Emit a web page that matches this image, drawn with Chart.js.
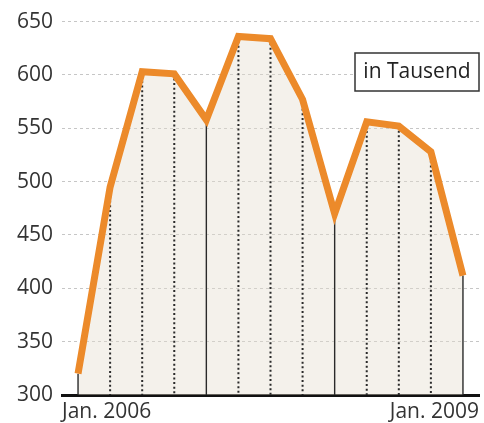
<!DOCTYPE html>
<html>
<head>
<meta charset="utf-8">
<script src="https://cdn.jsdelivr.net/npm/chart.js@4.4.1/dist/chart.umd.min.js"></script>
<style>
    html, body { margin: 0; padding: 0; background: #fff; }
    #wrap { width: 484px; height: 423px; position: relative; }
</style>
</head>
<body>
<div id="wrap"><canvas id="chart"></canvas></div>
<script>
/* ================= DATA ================= */

const quarters = [
    "Jan. 2006", "Apr. 2006", "Jul. 2006", "Okt. 2006",
    "Jan. 2007", "Apr. 2007", "Jul. 2007", "Okt. 2007",
    "Jan. 2008", "Apr. 2008", "Jul. 2008", "Okt. 2008",
    "Jan. 2009"
];
const values = [320, 495, 603, 601, 558, 636, 634, 577, 470, 556, 552, 528, 412];
const yTicks = [300, 350, 400, 450, 500, 550, 600, 650];
const xTickLabels = ["Jan. 2006", "Jan. 2009"];
const unitLabel = "in Tausend";

/* ================= PLUGINS ================= */

// senkrechte Linien von jedem Punkt zur Grundlinie
const dropLines = {
    id: "dropLines",
    beforeDatasetsDraw(chart) {
        const { ctx, scales: { x, y } } = chart;
        const base = y.getPixelForValue(yTicks[0]);
        values.forEach((v, i) => {
            const px = x.getPixelForValue(i);
            ctx.save();
            ctx.strokeStyle = "#2a2a2a";
            if (i % 4 === 0) {
                ctx.lineWidth = 1.4;
                ctx.setLineDash([]);
            } else {
                ctx.lineWidth = 2;
                ctx.setLineDash([2, 2.6]);
            }
            ctx.beginPath();
            ctx.moveTo(px, y.getPixelForValue(v));
            ctx.lineTo(px, base);
            ctx.stroke();
            ctx.restore();
        });
    }
};

const unitBox = {
    id: "unitBox",
    afterDraw(chart) {
        const { ctx } = chart;
        ctx.save();
        ctx.fillStyle = "#fff";
        ctx.fillRect(355, 53, 124, 38);
        ctx.strokeStyle = "#333";
        ctx.lineWidth = 1.5;
        ctx.strokeRect(355, 53, 124, 38);
        ctx.fillStyle = "#222";
        ctx.font = "21px 'Open Sans'";
        ctx.textAlign = "center";
        ctx.textBaseline = "middle";
        ctx.fillText(unitLabel, 417, 72);
        ctx.restore();
    }
};

/* ================= CHART ================= */

new Chart(document.getElementById("chart"), {
    type: "line",
    data: {
        labels: quarters,
        datasets: [{
            data: values.map((v, i) => ({ x: i, y: v })),
            borderColor: "#ec8a2a",
            borderWidth: 7,
            borderJoinStyle: "miter",
            backgroundColor: "rgba(228,220,204,0.4)",
            fill: "start",
            tension: 0,
            pointRadius: 0,
        }]
    },
    options: {
        responsive: true,
        maintainAspectRatio: false,
        animation: false,
        layout: { padding: { top: 19, right: 5, left: 0, bottom: 0 } },
        plugins: {
            legend: { display: false },
            tooltip: { enabled: false },
            filler: { drawTime: "beforeDatasetsDraw" }
        },
        scales: {
            x: {
                type: "linear",
                min: -0.5,
                max: 12.5,
                afterBuildTicks: s => {
                    s.ticks = [{ value: -0.5 }, { value: 12.5 }];
                },
                afterFit: s => { s.height = 28; },
                grid: { display: false },
                border: { display: true, color: "#111", width: 3 },
                ticks: {
                    align: "inner",
                    maxRotation: 0,
                    autoSkip: false,
                    padding: -3,
                    color: "#333",
                    font: { family: "'Open Sans'", size: 21, lineHeight: 1.1 },
                    callback: (v, i) => xTickLabels[i]
                }
            },
            y: {
                min: 300,
                max: 650,
                afterBuildTicks: s => {
                    s.ticks = yTicks.map(v => ({ value: v }));
                },
                afterFit: s => { s.width = 62; },
                grid: { color: "#c6c6c6", lineWidth: 1, drawTicks: false },
                border: { display: false, dash: [3, 3] },
                ticks: {
                    padding: 9,
                    color: "#333",
                    font: { family: "'Open Sans'", size: 21 }
                }
            }
        }
    },
    plugins: [dropLines, unitBox]
});
</script>
</body>
</html>
